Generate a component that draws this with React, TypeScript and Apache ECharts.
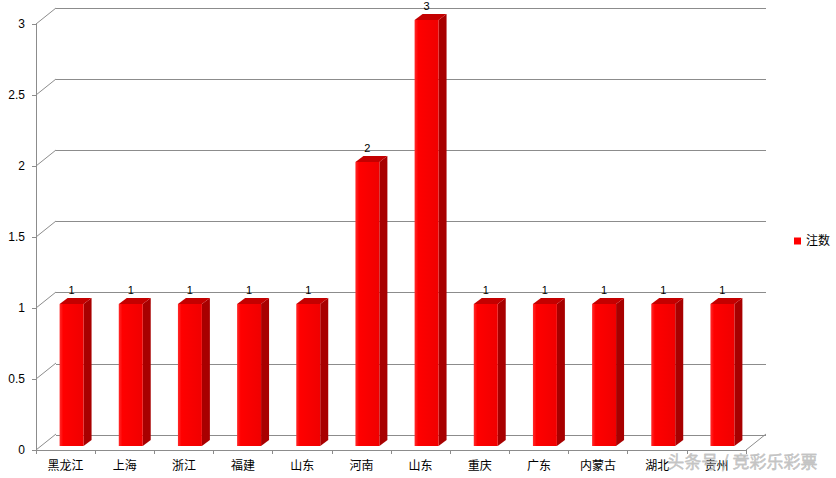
import React, { useEffect, useRef } from "react";
import * as echarts from "echarts";

const categories = ["黑龙江", "上海", "浙江", "福建", "山东", "河南", "山东", "重庆", "广东", "内蒙古", "湖北", "贵州"];
const values = [1, 1, 1, 1, 1, 2, 3, 1, 1, 1, 1, 1];
const yTicks = [0, 0.5, 1, 1.5, 2, 2.5, 3];
const seriesName = "注数";
const watermark = "头条号 / 竞彩乐彩票";

const FONT = "'Liberation Sans', 'Noto Sans CJK SC', sans-serif";
const GRID_COLOR = "#8c8c8c";
const DEPTH_X = 20;
const DEPTH_Y = -16;

export default function App() {
  const ref = useRef<HTMLDivElement>(null);
  useEffect(() => {
    document.body.style.margin = "0";
    const chart = echarts.init(ref.current!, undefined, { renderer: "svg" });
    const barData = values.map((v, i) => [i, v]);
    const tickData = yTicks.map((t) => [0, t]);
    chart.setOption({
      animation: false,
      backgroundColor: "#ffffff",
      textStyle: { fontFamily: FONT },
      legend: {
        data: [seriesName],
        left: 789,
        top: 230,
        icon: "rect",
        itemWidth: 7,
        itemHeight: 7,
        itemGap: 5,
        textStyle: { fontSize: 12, color: "#000", fontFamily: FONT },
      },
      grid: [
        { left: 36, right: 90, top: 24, bottom: 28 },
        { left: 56, right: 70, top: 8, bottom: 43 },
      ],
      xAxis: [
        {
          type: "category",
          gridIndex: 0,
          data: categories,
          boundaryGap: true,
          axisLine: { show: true, lineStyle: { color: GRID_COLOR } },
          axisTick: { show: true, length: 4, lineStyle: { color: GRID_COLOR } },
          axisLabel: { color: "#000", fontSize: 12, margin: 10, interval: 0, fontFamily: FONT },
          splitLine: { show: false },
        },
        {
          type: "category",
          gridIndex: 1,
          data: categories,
          show: false,
        },
      ],
      yAxis: [
        {
          type: "value",
          gridIndex: 0,
          min: 0,
          max: 3,
          interval: 0.5,
          axisLine: { show: true, lineStyle: { color: GRID_COLOR } },
          axisTick: { show: true, length: 4, lineStyle: { color: GRID_COLOR } },
          axisLabel: { color: "#000", fontSize: 12, margin: 11, fontFamily: FONT },
          splitLine: { show: false },
        },
        {
          type: "value",
          gridIndex: 1,
          min: 0,
          max: 3,
          interval: 0.5,
          axisLine: { show: false },
          axisTick: { show: false },
          axisLabel: { show: false },
          splitLine: { show: true, lineStyle: { color: GRID_COLOR, width: 1 } },
        },
      ],
      series: [
        {
          name: "decor",
          type: "custom",
          xAxisIndex: 0,
          yAxisIndex: 0,
          silent: true,
          data: tickData,
          encode: { x: 0, y: 1 },
          renderItem: (params: any, api: any) => {
            const cs = params.coordSys;
            const v = api.value(1);
            const p = api.coord([0, v]);
            const children: any[] = [
              {
                type: "line",
                shape: { x1: cs.x, y1: p[1], x2: cs.x + DEPTH_X, y2: p[1] + DEPTH_Y },
                style: { stroke: GRID_COLOR, lineWidth: 1 },
              },
            ];
            if (v === 0) {
              children.push({
                type: "line",
                shape: {
                  x1: cs.x + cs.width,
                  y1: p[1],
                  x2: cs.x + cs.width + DEPTH_X,
                  y2: p[1] + DEPTH_Y,
                },
                style: { stroke: GRID_COLOR, lineWidth: 1 },
              });
            }
            return { type: "group", children };
          },
        },
        {
          name: seriesName,
          type: "custom",
          xAxisIndex: 0,
          yAxisIndex: 0,
          itemStyle: { color: "#ff0000" },
          data: barData,
          encode: { x: 0, y: 1 },
          renderItem: (params: any, api: any) => {
            const idx = api.value(0);
            const v = api.value(1);
            const base = api.coord([idx, 0]);
            const top = api.coord([idx, v]);
            const bw = api.size([1, 0])[0];
            const fw = bw * 0.405;
            const ox = 6, oy = -4, dx = 8, dy = -6;
            const xl = base[0] + ox - fw / 2;
            const xr = xl + fw;
            const yb = base[1] + oy;
            const yt = top[1] + oy;
            return {
              type: "group",
              children: [
                {
                  type: "polygon",
                  shape: { points: [[xr, yt], [xr + dx, yt + dy], [xr + dx, yb + dy], [xr, yb]] },
                  style: { fill: "#a80000" },
                },
                {
                  type: "polygon",
                  shape: { points: [[xl, yt], [xl + dx, yt + dy], [xr + dx, yt + dy], [xr, yt]] },
                  style: { fill: "#c40000" },
                },
                {
                  type: "polygon",
                  shape: { points: [[xl, yt], [xr, yt], [xr, yb], [xl, yb]] },
                  style: {
                    fill: new echarts.graphic.LinearGradient(0, 0, 1, 0, [
                      { offset: 0, color: "#ff2a2a" },
                      { offset: 0.15, color: "#ff0000" },
                      { offset: 1, color: "#f00000" },
                    ]),
                  },
                },
                {
                  type: "text",
                  x: (xl + xr) / 2,
                  y: yt - 14,
                  style: {
                    text: String(v),
                    fill: "#000",
                    fontSize: 11,
                    fontFamily: FONT,
                    align: "center",
                    verticalAlign: "middle",
                  },
                },
              ],
            };
          },
        },
      ],
      graphic: [
        {
          type: "text",
          left: 667,
          top: 452,
          z: 100,
          style: {
            text: watermark,
            fill: "#c4c4c4",
            stroke: "#9a9a9a",
            lineWidth: 0.3,
            fontSize: 17,
            fontFamily: "'Noto Sans CJK SC', sans-serif",
          },
        },
      ],
    });
    return () => chart.dispose();
  }, []);
  return <div ref={ref} style={{ width: 836, height: 478 }} />;
}
